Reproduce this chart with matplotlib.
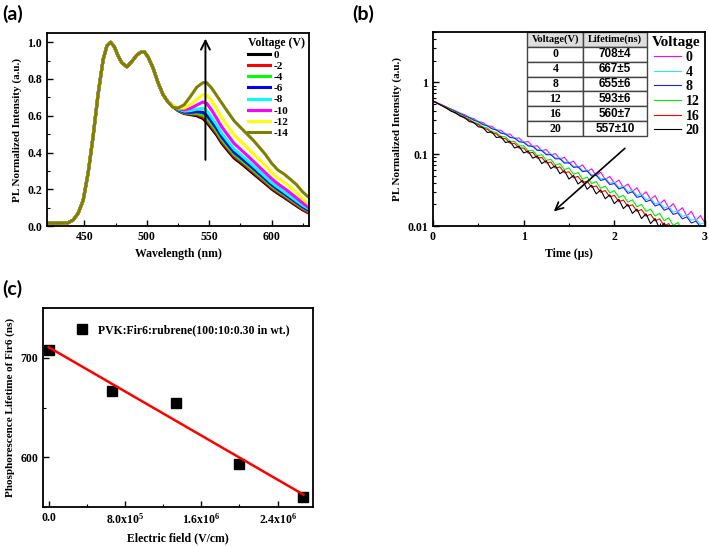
import matplotlib
matplotlib.use("Agg")
import matplotlib.pyplot as plt
import numpy as np
from matplotlib.ticker import MultipleLocator, LogLocator, NullFormatter

plt.rcParams['font.family'] = 'Liberation Serif'
plt.rcParams['font.weight'] = 'bold'
plt.rcParams['axes.labelweight'] = 'bold'
plt.rcParams['mathtext.fontset'] = 'custom'
plt.rcParams['mathtext.rm'] = 'Liberation Serif:bold'
plt.rcParams['mathtext.default'] = 'rm'
plt.rcParams['xtick.direction'] = 'in'
plt.rcParams['ytick.direction'] = 'in'
plt.rcParams['axes.linewidth'] = 1.3

# ---- (a) PL spectra vs voltage ----
wl_head = [420, 430, 437, 441, 445, 449, 453, 457, 461, 465, 468, 471, 474, 477,
           480, 484, 488, 492, 495, 498, 501, 505, 509, 513, 517]
pl_head = [0.015, 0.015, 0.018, 0.033, 0.07, 0.14, 0.29, 0.49, 0.72, 0.905, 0.98, 1.0,
           0.975, 0.925, 0.888, 0.866, 0.895, 0.93, 0.945, 0.948, 0.92, 0.86, 0.78, 0.715, 0.675]
wl_tail = [521, 525, 530, 535, 540, 545, 548, 552, 556, 560, 565, 570, 575, 580,
           585, 590, 595, 600, 605, 610, 615, 620, 625, 630]
pl_0 = [0.650, 0.628, 0.612, 0.606, 0.600, 0.585, 0.565, 0.530, 0.495, 0.452, 0.410, 0.370,
        0.344, 0.316, 0.287, 0.259, 0.231, 0.202, 0.178, 0.156, 0.133, 0.110, 0.088, 0.070]
pl_m2 = [0.651, 0.630, 0.614, 0.610, 0.606, 0.594, 0.576, 0.540, 0.504, 0.461, 0.419, 0.378,
         0.352, 0.324, 0.295, 0.266, 0.238, 0.208, 0.184, 0.162, 0.138, 0.115, 0.092, 0.073]
pl_m4 = [0.652, 0.632, 0.617, 0.614, 0.613, 0.604, 0.588, 0.552, 0.515, 0.472, 0.430, 0.389,
         0.362, 0.334, 0.305, 0.276, 0.247, 0.217, 0.192, 0.170, 0.146, 0.122, 0.099, 0.080]
pl_m6 = [0.653, 0.634, 0.620, 0.619, 0.622, 0.618, 0.605, 0.568, 0.530, 0.486, 0.443, 0.401,
         0.374, 0.345, 0.316, 0.286, 0.256, 0.226, 0.200, 0.177, 0.153, 0.128, 0.104, 0.085]
pl_m8 = [0.654, 0.637, 0.625, 0.628, 0.636, 0.640, 0.628, 0.590, 0.550, 0.505, 0.461, 0.418,
         0.390, 0.360, 0.330, 0.299, 0.268, 0.237, 0.211, 0.187, 0.162, 0.137, 0.113, 0.093]
pl_m10 = [0.655, 0.640, 0.632, 0.640, 0.658, 0.675, 0.668, 0.630, 0.586, 0.540, 0.494, 0.449,
          0.418, 0.387, 0.355, 0.322, 0.290, 0.258, 0.230, 0.206, 0.180, 0.153, 0.125, 0.100]
pl_m12 = [0.655, 0.642, 0.642, 0.660, 0.690, 0.715, 0.712, 0.680, 0.638, 0.590, 0.542, 0.495,
          0.462, 0.430, 0.396, 0.362, 0.328, 0.292, 0.262, 0.238, 0.212, 0.182, 0.148, 0.118]
pl_m14 = [0.645, 0.642, 0.660, 0.705, 0.755, 0.780, 0.780, 0.750, 0.710, 0.670, 0.620, 0.572,
          0.537, 0.503, 0.469, 0.430, 0.390, 0.342, 0.305, 0.283, 0.255, 0.225, 0.185, 0.155]
volt_a = ['0', '-2', '-4', '-6', '-8', '-10', '-12', '-14']
colors_a = ['#000000', '#ff0000', '#00ff00', '#0000ee', '#00ffff', '#ff00ff', '#ffff00', '#808000']

# ---- (b) transient decay ----
t_us = np.arange(61) * 0.05
dec_0 = [0.550, 0.518, 0.481, 0.456, 0.422, 0.401, 0.370, 0.354, 0.325, 0.312,
         0.284, 0.276, 0.248, 0.244, 0.216, 0.215, 0.190, 0.190, 0.166, 0.168,
         0.146, 0.150, 0.128, 0.131, 0.112, 0.116, 0.097, 0.102, 0.0855, 0.0905,
         0.0745, 0.0800, 0.0650, 0.0710, 0.0575, 0.0625, 0.0500, 0.0560, 0.0445, 0.0490,
         0.0395, 0.0435, 0.0345, 0.0385, 0.0305, 0.0340, 0.0265, 0.0300, 0.0235, 0.0265,
         0.0200, 0.0232, 0.0178, 0.0205, 0.0158, 0.0180, 0.0138, 0.0160, 0.0120, 0.0140, 0.0110]
dec_4 = [0.550, 0.514, 0.484, 0.449, 0.424, 0.392, 0.372, 0.343, 0.327, 0.300,
         0.287, 0.262, 0.252, 0.229, 0.221, 0.199, 0.195, 0.174, 0.170, 0.152,
         0.150, 0.133, 0.131, 0.116, 0.115, 0.101, 0.1015, 0.0885, 0.0890, 0.0770,
         0.0785, 0.0675, 0.0690, 0.0590, 0.0605, 0.0515, 0.0530, 0.0455, 0.0465, 0.0395,
         0.0410, 0.0345, 0.0360, 0.0300, 0.0318, 0.0265, 0.0278, 0.0232, 0.0245, 0.0203,
         0.0212, 0.0178, 0.0187, 0.0157, 0.0163, 0.0136, 0.0143, 0.0120, 0.0126, 0.0106, 0.0112]
dec_8 = [0.550, 0.512, 0.483, 0.446, 0.422, 0.390, 0.369, 0.340, 0.323, 0.297,
         0.283, 0.258, 0.248, 0.225, 0.217, 0.196, 0.190, 0.171, 0.167, 0.149,
         0.146, 0.130, 0.128, 0.113, 0.112, 0.098, 0.0985, 0.0860, 0.0865, 0.0750,
         0.0760, 0.0655, 0.0665, 0.0570, 0.0585, 0.0495, 0.0510, 0.0430, 0.0450, 0.0378,
         0.0390, 0.0328, 0.0345, 0.0285, 0.0300, 0.0250, 0.0262, 0.0218, 0.0230, 0.0190,
         0.0200, 0.0166, 0.0176, 0.0145, 0.0153, 0.0126, 0.0134, 0.0110, 0.0117, 0.0098, 0.0101]
dec_12 = [0.550, 0.508, 0.478, 0.437, 0.413, 0.377, 0.358, 0.324, 0.309, 0.279,
          0.267, 0.240, 0.231, 0.205, 0.200, 0.176, 0.174, 0.151, 0.150, 0.130,
          0.131, 0.111, 0.113, 0.0950, 0.0985, 0.0820, 0.0850, 0.0705, 0.0740, 0.0610,
          0.0645, 0.0525, 0.0555, 0.0450, 0.0480, 0.0390, 0.0415, 0.0335, 0.0360, 0.0290,
          0.0310, 0.0250, 0.0268, 0.0215, 0.0232, 0.0185, 0.0200, 0.0160, 0.0172, 0.0138,
          0.0150, 0.0119, 0.0130, 0.0102, 0.0112, 0.0089, 0.0098, 0.0078, 0.0084, 0.0068, 0.0072]
dec_16 = [0.550, 0.506, 0.474, 0.432, 0.407, 0.369, 0.350, 0.316, 0.300, 0.270,
          0.258, 0.230, 0.222, 0.196, 0.191, 0.167, 0.164, 0.142, 0.141, 0.121,
          0.122, 0.103, 0.106, 0.0880, 0.0900, 0.0755, 0.0775, 0.0640, 0.0665, 0.0550,
          0.0570, 0.0470, 0.0490, 0.0405, 0.0420, 0.0345, 0.0362, 0.0295, 0.0312, 0.0255,
          0.0268, 0.0218, 0.0230, 0.0188, 0.0198, 0.0160, 0.0170, 0.0137, 0.0146, 0.0118,
          0.0126, 0.0101, 0.0108, 0.0087, 0.0093, 0.0075, 0.0080, 0.0065, 0.0070, 0.0057, 0.0060]
dec_20 = [0.550, 0.510, 0.470, 0.437, 0.395, 0.376, 0.338, 0.322, 0.284, 0.276,
          0.240, 0.236, 0.200, 0.204, 0.170, 0.175, 0.145, 0.150, 0.122, 0.128,
          0.104, 0.110, 0.088, 0.094, 0.074, 0.081, 0.063, 0.0690, 0.0535, 0.0590,
          0.0450, 0.0505, 0.0385, 0.0430, 0.0325, 0.0370, 0.0280, 0.0318, 0.0240, 0.0272,
          0.0205, 0.0235, 0.0175, 0.0200, 0.0150, 0.0172, 0.0127, 0.0148, 0.0108, 0.0127,
          0.0092, 0.0110, 0.0080, 0.0094, 0.0068, 0.0080, 0.0058, 0.0070, 0.0050, 0.0059, 0.0048]
volt_b = ['0', '4', '8', '12', '16', '20']
colors_b = ['#ff00ff', '#33e6e6', '#2222dd', '#00ee00', '#ff0000', '#000000']
life_text = ['708\u00b14', '667\u00b15', '655\u00b16', '593\u00b16', '560\u00b17', '557\u00b110']

# ---- (c) lifetime vs field ----
field = [0.0, 6.67e5, 1.33e6, 2.0e6, 2.67e6]
lifetime = [708, 667, 655, 593, 560]

fig = plt.figure(figsize=(7.09, 5.46), dpi=100)
ax_a = fig.add_axes([0.0663, 0.586, 0.3695, 0.3535])
ax_b = fig.add_axes([0.6107, 0.586, 0.3836, 0.3553])
ax_c = fig.add_axes([0.0606, 0.0714, 0.3808, 0.3645])

# (a)
tails = [pl_0, pl_m2, pl_m4, pl_m6, pl_m8, pl_m10, pl_m12, pl_m14]
for lab, col, tail in zip(volt_a, colors_a, tails):
    ax_a.plot(wl_head + wl_tail, pl_head + tail, color=col, lw=2.2, label=lab)
ax_a.annotate('', xy=(547, 1.035), xytext=(547, 0.345),
              arrowprops=dict(arrowstyle='->', lw=1.4, color='k', mutation_scale=16))
ax_a.set_xlim(420, 630)
ax_a.set_ylim(0, 1.05)
ax_a.xaxis.set_major_locator(MultipleLocator(50))
ax_a.xaxis.set_minor_locator(MultipleLocator(25))
ax_a.yaxis.set_major_locator(MultipleLocator(0.2))
ax_a.yaxis.set_minor_locator(MultipleLocator(0.1))
ax_a.yaxis.set_major_formatter(plt.FormatStrFormatter('%.1f'))
ax_a.set_xlabel('Wavelength (nm)', fontsize=8.5)
ax_a.set_ylabel('PL Normalized Intensity (a.u.)', fontsize=8)
ax_a.legend(title='Voltage (V)', loc='upper right', frameon=False, fontsize=8,
            handlelength=2.0, handletextpad=0.3, labelspacing=0.12,
            borderaxespad=0.15, borderpad=0.2, alignment='left',
            title_fontproperties={'family': 'Liberation Serif', 'weight': 'bold', 'size': 8.5})

# (b)
decays = [dec_0, dec_4, dec_8, dec_12, dec_16, dec_20]
for lab, col, d in zip(volt_b, colors_b, decays):
    ax_b.plot(t_us, d, color=col, lw=0.8, label=lab)
ax_b.set_yscale('log')
ax_b.set_xlim(0, 3)
ax_b.set_ylim(0.01, 5)
ax_b.set_yticks([0.01, 0.1, 1])
ax_b.set_yticklabels(['0.01', '0.1', '1'])
ax_b.yaxis.set_minor_locator(LogLocator(base=10, subs=np.arange(2, 10)))
ax_b.yaxis.set_minor_formatter(NullFormatter())
ax_b.xaxis.set_major_locator(MultipleLocator(1))
ax_b.xaxis.set_minor_locator(MultipleLocator(0.5))
ax_b.set_xlabel('Time (\u03bcs)', fontsize=8.5)
ax_b.set_ylabel('PL Normalized Intensity (a.u.)', fontsize=8)
ax_b.annotate('', xy=(1.31, 0.0151), xytext=(2.14, 0.128),
              arrowprops=dict(arrowstyle='->', lw=1.2, color='k', mutation_scale=14))
ax_b.legend(title='Voltage', loc='upper right', frameon=False, fontsize=10,
            handlelength=2.0, handletextpad=0.3, labelspacing=0.12,
            borderaxespad=0.1, borderpad=0.2,
            title_fontproperties={'family': 'Liberation Serif', 'weight': 'bold', 'size': 11})
tab = ax_b.table(cellText=[[v, l] for v, l in zip(volt_b, life_text)],
                 colLabels=['Voltage(V)', 'Lifetime(ns)'], cellLoc='center',
                 bbox=[0.347, 0.464, 0.439, 0.536], colWidths=[0.206, 0.233])
tab.auto_set_font_size(False)
for (r, c), cell in tab.get_celld().items():
    cell.set_edgecolor('#444444')
    cell.set_linewidth(1.0)
    txt = cell.get_text()
    txt.set_fontweight('bold')
    if r == 0:
        cell.set_facecolor('#dedede')
        txt.set_fontsize(7.5)
        txt.set_fontfamily('Liberation Serif')
    elif c == 0:
        txt.set_fontsize(8.5)
        txt.set_fontfamily('Liberation Serif')
    else:
        txt.set_fontsize(8.5)
        txt.set_fontfamily('Liberation Sans')

# (c)
ax_c.plot(field, lifetime, 's', color='k', ms=7, ls='none',
          label='PVK:Fir6:rubrene(100:10:0.30 in wt.)')
slope, intercept = np.polyfit(field, lifetime, 1)
fx = np.array([field[0], field[-1]])
ax_c.plot(fx, slope * fx + intercept, color='#ff0000', lw=1.8)
ax_c.set_xlim(-6e4, 2.77e6)
ax_c.set_ylim(550, 750)
ax_c.set_xticks([0, 8e5, 1.6e6, 2.4e6])
ax_c.set_xticklabels(['0.0', r'8.0x10$^{5}$', r'1.6x10$^{6}$', r'2.4x10$^{6}$'])
ax_c.xaxis.set_minor_locator(MultipleLocator(4e5))
ax_c.set_yticks([600, 700])
ax_c.yaxis.set_minor_locator(MultipleLocator(50))
ax_c.set_xlabel('Electric field (V/cm)', fontsize=8.5)
ax_c.set_ylabel('Phosphorescence Lifetime of Fir6 (ns)', fontsize=8)
ax_c.legend(loc='upper left', bbox_to_anchor=(0.085, 0.97), frameon=False, fontsize=8.5,
            handlelength=1.0, handletextpad=0.8, numpoints=1)

for ax in (ax_a, ax_b, ax_c):
    ax.tick_params(which='major', length=4, width=1, labelsize=8.5)
    ax.tick_params(which='minor', length=2, width=0.8)

fig.text(0.003, 0.974, '(a)', fontsize=14, fontweight='bold', family='Lato', va='center')
fig.text(0.4965, 0.974, '(b)', fontsize=14, fontweight='bold', family='Lato', va='center')
fig.text(0.003, 0.4707, '(c)', fontsize=14, fontweight='bold', family='Lato', va='center')

fig.savefig('out.png', dpi=100)
